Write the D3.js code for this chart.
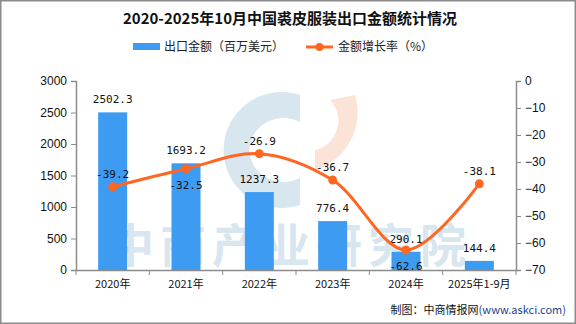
<!DOCTYPE html>
<html>
<head>
<meta charset="utf-8">
<script src="https://cdn.jsdelivr.net/npm/d3@7"></script>
<style>
  body { margin: 0; background: #fff; }
  svg { display: block; font-family: "Noto Sans CJK SC", "DejaVu Sans", sans-serif; }
</style>
</head>
<body>
<svg></svg>
<script>
const categories = ['2020年', '2021年', '2022年', '2023年', '2024年', '2025年1-9月'];
const exportValues = [2502.3, 1693.2, 1237.3, 776.4, 290.1, 144.4];
const growthRates = [-39.2, -32.5, -26.9, -36.7, -62.6, -38.1];
const leftTicks = [0, 500, 1000, 1500, 2000, 2500, 3000];
const rightTicks = [0, -10, -20, -30, -40, -50, -60, -70];
// which side of the point each growth label sits on
const rateLabelBelow = [false, true, false, false, true, false];

const width = 576;
const height = 324;
const svg = d3.select('svg').attr('width', width).attr('height', height);

const plotLeft = 76;
const plotRight = 516;
const plotTop = 81;
const plotBottom = 270;

const x = d3.scaleBand().domain(categories).range([plotLeft, plotRight]);
const yLeft = d3.scaleLinear().domain([0, 3000]).range([plotBottom, plotTop]);
const yRight = d3.scaleLinear().domain([-70, 0]).range([plotBottom, plotTop]);

// frame
svg.append('rect')
    .attr('x', 0.5).attr('y', 0.5)
    .attr('width', width - 1).attr('height', height - 1)
    .attr('fill', 'none').attr('stroke', '#8c8c8c').attr('stroke-width', 2);

// watermark
const wm = svg.append('g').attr('opacity', 0.45);
wm.append('path')
    .attr('d', 'M 300 95 A 58 58 0 1 0 300 205 L 300 178 A 34 32 0 1 1 300 122 Z')
    .attr('fill', '#a9c8df');
wm.append('path')
    .attr('d', 'M 315 170 A 60 60 0 0 0 355 95 L 330 100 A 30 30 0 0 1 315 150 Z')
    .attr('fill', '#f7c3a8');
wm.append('text')
    .attr('x', 290).attr('y', 262)
    .attr('text-anchor', 'middle')
    .attr('font-size', 46).attr('font-weight', 'bold')
    .attr('fill', '#a9c8df')
    .attr('letter-spacing', 6)
    .text('中商产业研究院');

// title
svg.append('text')
    .attr('x', 290).attr('y', 24)
    .attr('text-anchor', 'middle')
    .attr('font-size', 15).attr('font-weight', 'bold')
    .attr('fill', '#111')
    .text('2020-2025年10月中国裘皮服装出口金额统计情况');

// legend
const legend = svg.append('g').attr('font-size', 12).attr('fill', '#222');
legend.append('rect')
    .attr('x', 133).attr('y', 43).attr('width', 27).attr('height', 7)
    .attr('fill', '#3d9cf1');
legend.append('text').attr('x', 164).attr('y', 51).text('出口金额（百万美元）');
legend.append('line')
    .attr('x1', 306).attr('x2', 333).attr('y1', 47).attr('y2', 47)
    .attr('stroke', '#ff6622').attr('stroke-width', 3);
legend.append('circle').attr('cx', 319.5).attr('cy', 47).attr('r', 4).attr('fill', '#ff6622');
legend.append('text').attr('x', 338).attr('y', 51).text('金额增长率（%）');

// axes
const axisColor = '#8c8c8c';
const leftAxis = svg.append('g')
    .attr('transform', `translate(${plotLeft},0)`)
    .call(d3.axisLeft(yLeft).tickValues(leftTicks).tickFormat(d3.format('d'))
        .tickSize(5).tickPadding(4));
const rightAxis = svg.append('g')
    .attr('transform', `translate(${plotRight},0)`)
    .call(d3.axisRight(yRight).tickValues(rightTicks).tickFormat(d3.format('d'))
        .tickSize(5).tickPadding(4));
const bottomAxis = svg.append('g')
    .attr('transform', `translate(0,${plotBottom})`)
    .call(d3.axisBottom(x).tickSize(0).tickPadding(10));
bottomAxis.selectAll('.tick line').remove();
// ticks sit at band boundaries
bottomAxis.selectAll('.bnd').data(d3.range(categories.length + 1))
    .enter().append('line')
    .attr('x1', (i) => plotLeft + i * x.step())
    .attr('x2', (i) => plotLeft + i * x.step())
    .attr('y1', 0).attr('y2', 5)
    .attr('stroke', axisColor);

for (const g of [leftAxis, rightAxis, bottomAxis]) {
  g.select('.domain').attr('stroke', axisColor).attr('stroke-width', 1.5);
  g.selectAll('.tick line').attr('stroke', axisColor);
  g.selectAll('text').attr('font-size', 12).attr('fill', '#111')
      .attr('font-family', '"Liberation Sans", "Noto Sans CJK SC", sans-serif');
}
bottomAxis.selectAll('.tick text').attr('font-family', '"Noto Sans CJK SC", sans-serif').attr('font-size', 11);

// bars
const barWidth = 29;
svg.append('g').selectAll('rect')
    .data(exportValues)
    .enter().append('rect')
    .attr('x', (d, i) => x(categories[i]) + x.bandwidth() / 2 - barWidth / 2)
    .attr('y', (d) => yLeft(d))
    .attr('width', barWidth)
    .attr('height', (d) => plotBottom - yLeft(d))
    .attr('fill', '#3d9cf1');

svg.append('g').selectAll('text')
    .data(exportValues)
    .enter().append('text')
    .attr('x', (d, i) => x(categories[i]) + x.bandwidth() / 2)
    .attr('y', (d) => yLeft(d) - 9)
    .attr('text-anchor', 'middle')
    .attr('font-size', 11)
    .attr('font-family', '"DejaVu Sans Mono", monospace')
    .attr('fill', '#111')
    .text((d) => d.toFixed(1));

// line
const cx = (i) => x(categories[i]) + x.bandwidth() / 2;
const line = d3.line()
    .x((d, i) => cx(i))
    .y((d) => yRight(d))
    .curve(d3.curveCatmullRom.alpha(0.5));
svg.append('path')
    .datum(growthRates)
    .attr('d', line)
    .attr('fill', 'none')
    .attr('stroke', '#ff6622')
    .attr('stroke-width', 3);

svg.append('g').selectAll('circle')
    .data(growthRates)
    .enter().append('circle')
    .attr('cx', (d, i) => cx(i))
    .attr('cy', (d) => yRight(d))
    .attr('r', 4.5)
    .attr('fill', '#ff6622');

svg.append('g').selectAll('text')
    .data(growthRates)
    .enter().append('text')
    .attr('x', (d, i) => cx(i))
    .attr('y', (d, i) => yRight(d) + (rateLabelBelow[i] ? 20 : -9))
    .attr('text-anchor', 'middle')
    .attr('font-size', 11)
    .attr('font-family', '"DejaVu Sans Mono", monospace')
    .attr('fill', '#111')
    .text((d) => d.toFixed(1));

// source
const src = svg.append('text')
    .attr('x', 566).attr('y', 314)
    .attr('text-anchor', 'end')
    .attr('font-size', 11);
src.append('tspan').attr('fill', '#111').text('制图：中商情报网');
src.append('tspan').attr('fill', '#1f3f8f').text('(www.askci.com)');
</script>
</body>
</html>
